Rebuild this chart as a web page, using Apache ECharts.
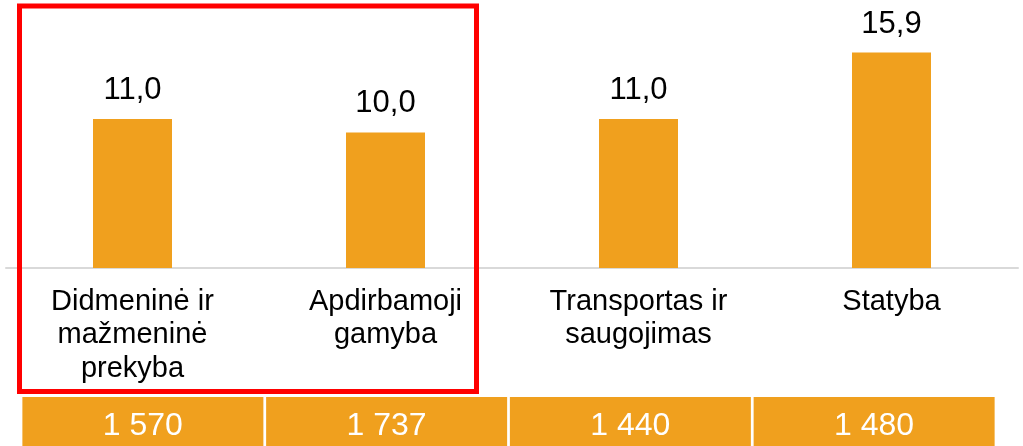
<!DOCTYPE html>
<html>
<head>
<meta charset="utf-8">
<script src="https://cdn.jsdelivr.net/npm/echarts@6/dist/echarts.min.js"></script>
<style>
  html, body { margin: 0; padding: 0; background: #fff; }
  .chart { width: 1023px; height: 446px; }
</style>
</head>
<body>
<div class="chart"></div>
<script>
const categories = ['Didmeninė ir\nmažmeninė\nprekyba', 'Apdirbamoji\ngamyba', 'Transportas ir\nsaugojimas', 'Statyba'];
const values = [11.0, 10.0, 11.0, 15.9];
const cellValues = [1570, 1737, 1440, 1480];

const orange = '#F0A01E';
const font = 'Liberation Sans, Arial, sans-serif';

const fmtComma = (v) => v.toFixed(1).replace('.', ',');
const fmtThousands = (v) => String(v).replace(/\B(?=(\d{3})+(?!\d))/g, ' ');

const drawChart = () => {
  const chart = echarts.init(document.querySelector('.chart'));
  chart.setOption({
    animation: false,
    textStyle: { fontFamily: font },
    grid: [
      { left: 6, right: 5, top: 24, bottom: 178 },
      { left: 21, right: 27, top: 397, height: 0 }
    ],
    xAxis: [{
      type: 'category',
      gridIndex: 0,
      data: categories,
      axisLine: { lineStyle: { color: '#D9D9D9', width: 2 } },
      axisTick: { show: false },
      axisLabel: {
        color: '#000',
        fontSize: 29,
        lineHeight: 33.5,
        margin: 17,
        interval: 0
      }
    }, {
      type: 'category',
      gridIndex: 1,
      data: cellValues.map(fmtThousands),
      axisLine: { show: false },
      axisTick: { show: false },
      axisLabel: {
        margin: 0,
        interval: 0,
        color: '#fff',
        fontSize: 32,
        backgroundColor: orange,
        width: 241,
        height: 58,
        lineHeight: 58,
        align: 'center'
      }
    }],
    yAxis: [{
      type: 'value',
      gridIndex: 0,
      min: 0,
      max: 18,
      show: false
    }, {
      type: 'value',
      gridIndex: 1,
      show: false
    }],
    series: [{
      type: 'bar',
      data: values,
      barWidth: 79,
      itemStyle: { color: orange },
      label: {
        show: true,
        position: 'top',
        distance: 13,
        color: '#000',
        fontSize: 31,
        formatter: (p) => fmtComma(p.value)
      }
    }],
    graphic: [{
      type: 'rect',
      shape: { x: 19.5, y: 6, width: 457, height: 385.5 },
      style: { fill: 'none', stroke: '#FF0000', lineWidth: 5 },
      z: 10
    }]
  });
  window.addEventListener('resize', () => chart.resize());
};

drawChart();
</script>
</body>
</html>
